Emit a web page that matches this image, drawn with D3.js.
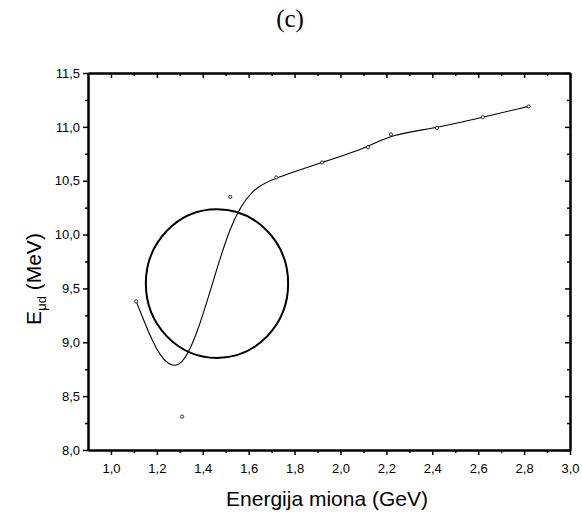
<script src="https://d3js.org/d3.v7.min.js"></script>

<div class="vis"></div>

<script>
  let width = 582
  let height = 521
  let margin = { top: 73, right: 12, bottom: 71, left: 88 }

  // measured points (Energija miona, E_mu d)
  let energy = [1.11, 1.31, 1.52, 1.72, 1.92, 2.12, 2.22, 2.42, 2.62, 2.82]
  let emud = [9.38, 8.31, 10.35, 10.53, 10.67, 10.81, 10.93, 10.99, 11.09, 11.19]

  // marked region (centre and half widths in data units)
  let ringCenter = [1.462, 9.545]
  let ringRadius = [0.31, 0.69]

  let xMajor = [1.0, 1.2, 1.4, 1.6, 1.8, 2.0, 2.2, 2.4, 2.6, 2.8, 3.0]
  let xMinor = [1.1, 1.3, 1.5, 1.7, 1.9, 2.1, 2.3, 2.5, 2.7, 2.9]
  let yMajor = [8.0, 8.5, 9.0, 9.5, 10.0, 10.5, 11.0, 11.5]
  let yMinor = [8.25, 8.75, 9.25, 9.75, 10.25, 10.75, 11.25]

  let data = energy.map((e, i) => ({ x: e, y: emud[i] }))

  let svg = d3.select('.vis').append('svg')
    .attr('width', width)
    .attr('height', height)
    .style('position', 'absolute')
    .style('left', 0)
    .style('top', 0)
    .style('background', '#fff')

  d3.select('body').style('margin', 0)

  let x = d3.scaleLinear()
    .domain([0.9, 3.0])
    .range([margin.left, width - margin.right])

  let y = d3.scaleLinear()
    .domain([8.0, 11.5])
    .range([height - margin.bottom, margin.top])

  let fmt = (d) => d3.format('.1f')(d).replace('.', ',')
  let sans = 'Liberation Sans, Arial, sans-serif'

  let styleAxis = (g) => {
    g.select('.domain').attr('stroke-width', 2)
    g.selectAll('.tick line').attr('stroke-width', 1.5)
    g.selectAll('.tick text')
      .attr('font-family', sans)
      .attr('font-size', 13)
      .attr('fill', '#000')
  }

  // bottom
  svg.append('g')
    .attr('transform', `translate(0,${y(8.0)})`)
    .call(d3.axisBottom(x).tickValues(xMinor).tickSize(3).tickFormat('').tickSizeOuter(0))
    .call(styleAxis)
  svg.append('g')
    .attr('transform', `translate(0,${y(8.0)})`)
    .call(d3.axisBottom(x).tickValues(xMajor).tickSize(5).tickPadding(9).tickFormat(fmt).tickSizeOuter(0))
    .call(styleAxis)

  // top (ticks inward)
  svg.append('g')
    .attr('transform', `translate(0,${y(11.5)})`)
    .call(d3.axisBottom(x).tickValues(xMinor).tickSize(3).tickFormat('').tickSizeOuter(0))
    .call(styleAxis)
  svg.append('g')
    .attr('transform', `translate(0,${y(11.5)})`)
    .call(d3.axisBottom(x).tickValues(xMajor).tickSize(5).tickFormat('').tickSizeOuter(0))
    .call(styleAxis)

  // left
  svg.append('g')
    .attr('transform', `translate(${x(0.9)},0)`)
    .call(d3.axisLeft(y).tickValues(yMinor).tickSize(3).tickFormat('').tickSizeOuter(0))
    .call(styleAxis)
  svg.append('g')
    .attr('transform', `translate(${x(0.9)},0)`)
    .call(d3.axisLeft(y).tickValues(yMajor).tickSize(5).tickPadding(3).tickFormat(fmt).tickSizeOuter(0))
    .call(styleAxis)

  // right (ticks inward)
  svg.append('g')
    .attr('transform', `translate(${x(3.0)},0)`)
    .call(d3.axisLeft(y).tickValues(yMinor).tickSize(3).tickFormat('').tickSizeOuter(0))
    .call(styleAxis)
  svg.append('g')
    .attr('transform', `translate(${x(3.0)},0)`)
    .call(d3.axisLeft(y).tickValues(yMajor).tickSize(5).tickFormat('').tickSizeOuter(0))
    .call(styleAxis)

  // ring
  svg.append('ellipse')
    .attr('cx', x(ringCenter[0]))
    .attr('cy', y(ringCenter[1]))
    .attr('rx', x(ringCenter[0] + ringRadius[0]) - x(ringCenter[0]))
    .attr('ry', y(ringCenter[1]) - y(ringCenter[1] + ringRadius[1]))
    .attr('fill', 'none')
    .attr('stroke', '#000')
    .attr('stroke-width', 2)

  // B-spline through the points
  let line = d3.line()
    .x((d) => x(d.x))
    .y((d) => y(d.y))
    .curve(d3.curveBasis)

  svg.append('path')
    .datum(data)
    .attr('d', line)
    .attr('fill', 'none')
    .attr('stroke', '#000')
    .attr('stroke-width', 1.1)

  svg.append('g')
    .selectAll('circle')
    .data(data)
    .join('circle')
    .attr('cx', (d) => x(d.x))
    .attr('cy', (d) => y(d.y))
    .attr('r', 1.6)
    .attr('fill', '#fff')
    .attr('stroke', '#000')
    .attr('stroke-width', 0.8)

  // labels
  svg.append('text')
    .attr('x', 327)
    .attr('y', 506)
    .attr('text-anchor', 'middle')
    .attr('font-family', sans)
    .attr('font-size', 21)
    .text('Energija miona (GeV)')

  let yl = svg.append('text')
    .attr('transform', 'translate(41,279)rotate(-90)')
    .attr('text-anchor', 'middle')
    .attr('font-family', sans)
    .attr('font-size', 21)
  yl.append('tspan').text('E')
  yl.append('tspan').attr('font-size', 13).attr('dy', 5).text('μd')
  yl.append('tspan').attr('dy', -5).text(' (MeV)')

  svg.append('text')
    .attr('x', 290)
    .attr('y', 27)
    .attr('text-anchor', 'middle')
    .attr('font-family', 'Liberation Serif, Times New Roman, serif')
    .attr('font-size', 25)
    .text('(c)')
</script>
